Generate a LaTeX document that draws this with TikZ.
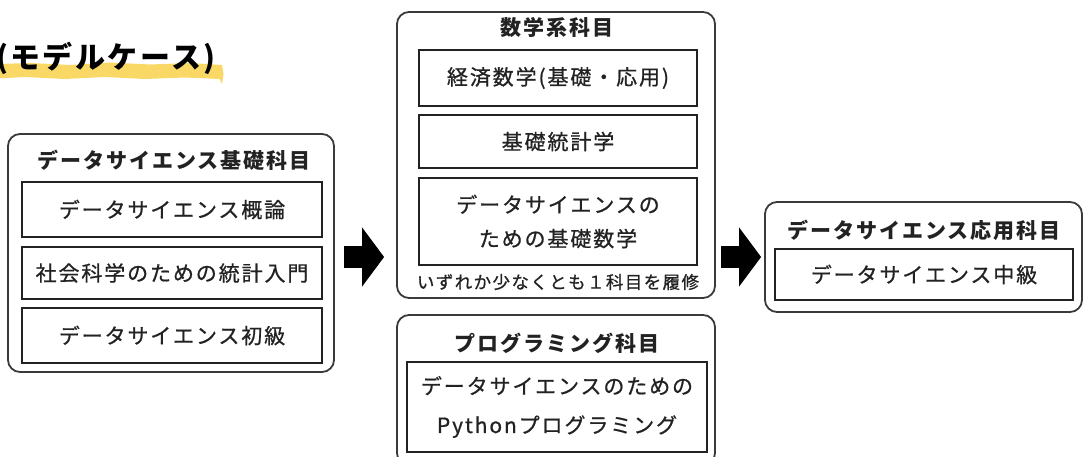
\documentclass[tikz,border=0pt]{standalone}
\usepackage{fontspec}
\usetikzlibrary{arrows.meta}
\newfontfamily\jp{Noto Sans CJK JP}
\definecolor{boxline}{HTML}{3A3A3A}
\definecolor{inkc}{HTML}{222222}
\definecolor{marker}{HTML}{FAD866}
\tikzset{
  itemfont/.style={font={\jp\fontsize{21}{34}\selectfont\addfontfeature{LetterSpace=9,FakeBold=0.8}}},
  headfont/.style={font={\jp\bfseries\fontsize{21}{26}\selectfont\addfontfeature{LetterSpace=9}}},
  groupbox/.style={draw=boxline, line width=1.8pt, rounded corners=12pt, inner sep=0pt},
  coursebox/.style={draw=inkc, line width=2.4pt, inner sep=0pt, text=inkc, align=center, itemfont},
  grouptitle/.style={inner sep=0pt, text=inkc, headfont},
  bigarrow/.style={line width=22pt, draw=black, -{Triangle[length=22pt,width=58pt]}}
}
\begin{document}
\begin{tikzpicture}[x=1pt,y=-1pt]
\useasboundingbox (0,0) rectangle (1086,457);

% heading with marker stroke
\fill[marker] (-2,64) -- (30,63) -- (70,65) -- (110,62.5) -- (150,64.5) -- (190,63) -- (222,65)
  -- (223.5,74) -- (222,84) -- (219.5,79) -- (185,77.5) -- (145,79) -- (105,77) -- (65,79)
  -- (25,77) -- (-2,78.5) -- cycle;
\node[anchor=west, inner sep=0pt, text=black,
  font={\jp\bfseries\fontsize{30}{34}\selectfont\addfontfeature{LetterSpace=8}}]
  (heading) at (-4,58) {(モデルケース)};

% basic courses
\node[groupbox, minimum width=326pt, minimum height=238pt] (basic) at (171,253) {};
\node[grouptitle] (basicT) at (174,160) {データサイエンス基礎科目};
\node[coursebox, minimum width=300pt, minimum height=55pt] (b1) at (172,209.5) {データサイエンス概論};
\node[coursebox, minimum width=300pt, minimum height=52pt] (b2) at (172,273) {社会科学のための統計入門};
\node[coursebox, minimum width=300pt, minimum height=55pt] (b3) at (172,335.5) {データサイエンス初級};

% mathematics courses
\node[groupbox, minimum width=318pt, minimum height=286pt] (math) at (556,155) {};
\node[grouptitle] (mathT) at (557,28) {数学系科目};
\node[coursebox, minimum width=278pt, minimum height=56pt] (m1) at (558,78) {経済数学(基礎・応用)};
\node[coursebox, minimum width=278pt, minimum height=53pt] (m2) at (558,141.5) {基礎統計学};
\node[coursebox, minimum width=278pt, minimum height=87pt] (m3) at (558,221.5) {データサイエンスの\\ための基礎数学};
\node[inner sep=0pt, text=inkc,
  font={\jp\fontsize{17.5}{22}\selectfont\addfontfeature{LetterSpace=8,FakeBold=0.8}}]
  (mathN) at (558,282) {いずれか少なくとも１科目を履修};

% programming courses
\node[groupbox, minimum width=318pt, minimum height=150pt] (prog) at (556,390) {};
\node[grouptitle] (progT) at (557,343) {プログラミング科目};
\node[coursebox, minimum width=300pt, minimum height=90pt,
  font={\jp\fontsize{21}{39}\selectfont\addfontfeature{LetterSpace=9,FakeBold=0.8}}]
  (p1) at (557,407) {データサイエンスのための\\Pythonプログラミング};

% applied courses
\node[groupbox, minimum width=317pt, minimum height=110pt] (applied) at (923.5,257) {};
\node[grouptitle] (appliedT) at (924,230) {データサイエンス応用科目};
\node[coursebox, minimum width=298pt, minimum height=51pt] (a1) at (924,274.5) {データサイエンス中級};

% flow arrows
\coordinate (arrowA) at ([shift={(9,4)}]basic.east);
\draw[bigarrow] (arrowA) -- ([xshift=-12pt]math.west |- arrowA);
\draw[bigarrow] ([xshift=5pt]math.east |- applied.west) -- ([xshift=-3pt]applied.west);
\end{tikzpicture}
\end{document}
